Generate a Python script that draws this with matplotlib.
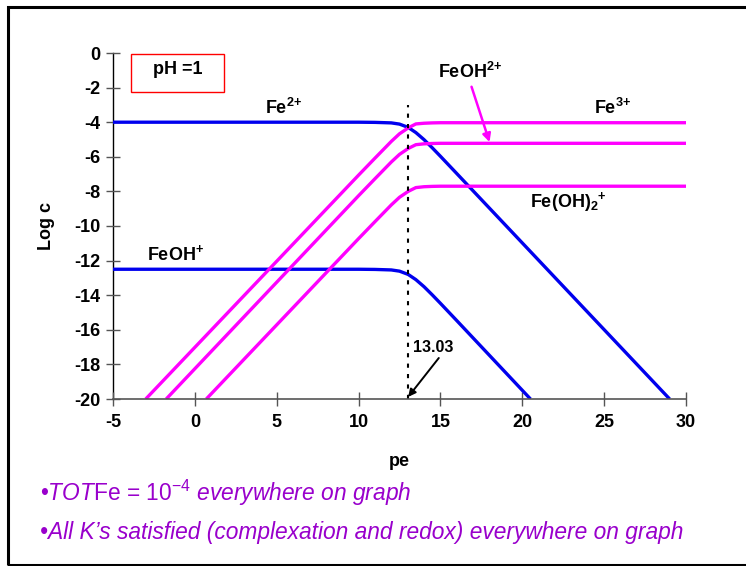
import matplotlib
matplotlib.use('Agg')
import matplotlib.pyplot as plt
from matplotlib.patches import Rectangle

plt.rcParams['font.family'] = ['Liberation Sans', 'DejaVu Sans']
plt.rcParams['mathtext.fontset'] = 'custom'
plt.rcParams['mathtext.rm'] = 'Liberation Sans'
plt.rcParams['mathtext.it'] = 'Liberation Sans:italic'
plt.rcParams['mathtext.bf'] = 'Liberation Sans:bold'
plt.rcParams['axes.unicode_minus'] = False

# log c vs pe at pH = 1, TOTFe = 1e-4
pe_fe2 = [-5, 8, 10, 11, 12, 12.5, 13.03, 13.5, 14, 14.5, 15, 16, 29.0]
fe2 = [-4.0, -4.0, -4.0, -4.01, -4.04, -4.11, -4.3, -4.6, -5.01, -5.48, -5.97, -6.97, -20.0]

pe_feoh = [-5, 8, 10, 11, 12, 12.5, 13.03, 13.5, 14, 14.5, 15, 16, 20.5]
feoh = [-12.5, -12.5, -12.5, -12.51, -12.54, -12.61, -12.8, -13.1, -13.51, -13.98, -14.47, -15.47, -20.0]

pe_fe3 = [-3.0, 10, 11, 12, 12.5, 13.03, 13.5, 14, 14.5, 15, 16, 18, 30]
fe3 = [-20.0, -7.06, -6.08, -5.11, -4.67, -4.33, -4.1, -4.06, -4.04, -4.03, -4.03, -4.03, -4.03]

pe_feoh2 = [-1.75, 10, 11, 12, 12.5, 13.03, 13.5, 14, 14.5, 15, 16, 18, 30]
feoh2 = [-20.0, -8.25, -7.27, -6.3, -5.86, -5.52, -5.3, -5.25, -5.23, -5.22, -5.22, -5.22, -5.22]

pe_feoh2p = [0.7, 10, 11, 12, 12.5, 13.03, 13.5, 14, 14.5, 15, 16, 18, 30]
feoh2p = [-20.0, -10.73, -9.75, -8.78, -8.34, -8.0, -7.78, -7.73, -7.71, -7.7, -7.7, -7.7, -7.7]

pe_cross = 13.03

blue = '#0000ee'
mag = '#ff00ff'
purple = '#9900cc'

fig = plt.figure(figsize=(7.46, 5.66), dpi=100)
ax = fig.add_axes([113/746, 1-399/566, (686-113)/746, (399-53)/566])

lw = 2.4
ax.plot(pe_fe2, fe2, color=blue, lw=lw, solid_capstyle='butt')
ax.plot(pe_feoh, feoh, color=blue, lw=lw, solid_capstyle='butt')
ax.plot(pe_fe3, fe3, color=mag, lw=lw, solid_capstyle='butt')
ax.plot(pe_feoh2, feoh2, color=mag, lw=lw, solid_capstyle='butt')
ax.plot(pe_feoh2p, feoh2p, color=mag, lw=lw, solid_capstyle='butt')

ax.plot([pe_cross, pe_cross], [-20, -3], color='black', lw=1.5, ls=(0, (2, 3)))

ax.set_xlim(-5, 30)
ax.set_ylim(-20, 0)
ax.set_xticks(range(-5, 31, 5))
ax.set_yticks(range(-20, 1, 2))
for s in ['top', 'right']:
    ax.spines[s].set_visible(False)
ax.spines['left'].set_color('black')
ax.spines['bottom'].set_color('#555555')
ax.spines['left'].set_linewidth(1.0)
ax.spines['bottom'].set_linewidth(1.2)
ax.spines['left'].set_zorder(0)
ax.tick_params(direction='inout', length=10, width=1.0, color='#555555',
               labelsize=13, pad=4)
for t in ax.get_xticklabels() + ax.get_yticklabels():
    t.set_fontweight('bold')
ax.tick_params(axis='x', pad=6)

ax.set_xlabel('pe', fontsize=13, fontweight='bold', labelpad=16)
ax.set_ylabel('Log c', fontsize=13, fontweight='bold', labelpad=14)

tk = dict(fontsize=13, fontweight='bold', ha='center', va='center')
ax.text(5.4, -3.2, r'Fe$^{\mathbf{2{+}}}$', **tk)
ax.text(-1.2, -11.6, r'FeOH$^{\mathbf{+}}$', **tk)
ax.text(25.5, -3.2, r'Fe$^{\mathbf{3{+}}}$', **tk)
ax.text(16.8, -1.1, r'FeOH$^{\mathbf{2{+}}}$', **tk)
ax.text(22.8, -8.6, r'Fe(OH)$_{\mathbf{2}}$$^{\mathbf{+}}$', **tk)

ax.annotate('', xy=(18.0, -5.15), xytext=(16.9, -1.95),
            arrowprops=dict(arrowstyle='-|>', color=mag, lw=1.8,
                            mutation_scale=12, shrinkA=0, shrinkB=0))

# crossing point marker
ax.text(14.58, -17.05, '13.03', fontsize=11.5, fontweight='bold',
        ha='center', va='center')
ax.annotate('', xy=(pe_cross, -19.88), xytext=(14.9, -17.63),
            arrowprops=dict(arrowstyle='-|>', color='black', lw=1.4,
                            mutation_scale=11, shrinkA=0, shrinkB=0))

# pH box
ax.add_patch(Rectangle((-3.9, -2.25), 5.7, 2.2, fill=False, edgecolor='red',
                       lw=1.0, clip_on=False))
ax.text(-1.05, -0.95, 'pH =1', **tk)

# notes below the plot
fig.text(40/746, 1-493/566,
         u'\u2022' + r'$\mathit{TOT}$Fe = 10$^{\mathit{-4}}$ $\mathit{everywhere\ on\ graph}$',
         color=purple, fontsize=16.4, va='center', ha='left')
fig.text(40/746, 1-533/566,
         u'\u2022All K\u2019s satisfied (complexation and redox) everywhere on graph',
         color=purple, fontsize=16.4, style='italic', va='center', ha='left')

# frame
fig.patches.append(Rectangle((8/746, 1-565/566), 1.0, 558/566, transform=fig.transFigure,
                             fill=False, edgecolor='black', lw=2.2))

fig.savefig('out.png', dpi=100)
